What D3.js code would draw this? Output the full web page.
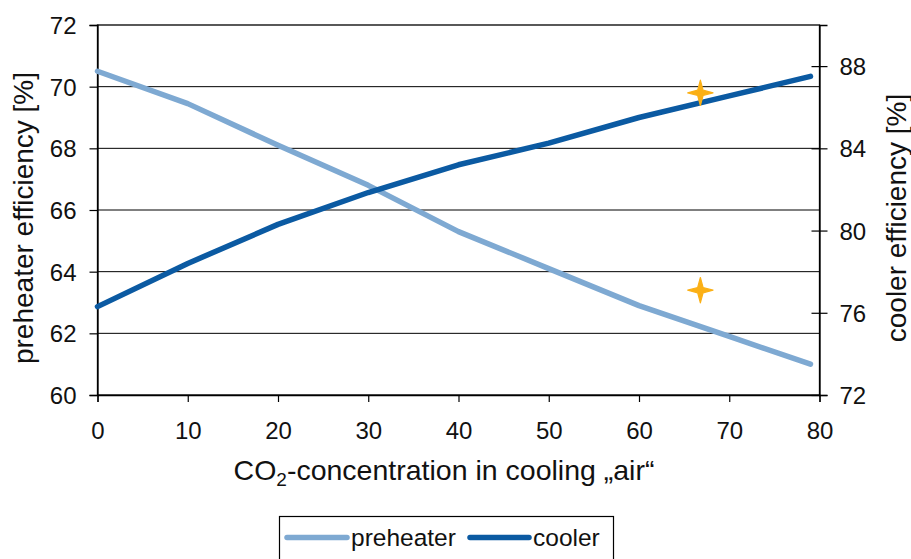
<!DOCTYPE html>
<html><head><meta charset="utf-8">
<script src="https://cdn.jsdelivr.net/npm/d3@7"></script>
<style>
html,body{margin:0;padding:0;background:#fff;}
svg{display:block;font-family:"Liberation Sans",Arial,sans-serif;}
</style></head>
<body><svg id="chart" width="911" height="559"></svg>
<script>
// ---- data ----
const co2 = [0, 10, 20, 30, 40, 50, 60, 70, 79];
const preheater = [70.5, 69.45, 68.1, 66.8, 65.3, 64.1, 62.9, 61.9, 61.0];
const cooler = [76.3, 78.4, 80.3, 81.85, 83.2, 84.25, 85.5, 86.55, 87.5];
const measuredX = [66.8];
const measuredPreheater = [63.4];
const measuredCooler = [86.7];
const xTicks = [0, 10, 20, 30, 40, 50, 60, 70, 80];
const leftTicks = [60, 62, 64, 66, 68, 70, 72];
const rightTicks = [72, 76, 80, 84, 88];
const seriesNames = ["preheater", "cooler"];

const colors = {preheater: "#7EA9D2", cooler: "#0B5AA2", star: "#FBB016"};

const svg = d3.select("#chart");
const m = {left: 97.5, right: 819.5, top: 25, bottom: 395};

const x = d3.scaleLinear().domain([0, 80]).range([m.left, m.right]);
const yL = d3.scaleLinear().domain([60, 72]).range([m.bottom, m.top]);
const yR = d3.scaleLinear().domain([72, 90]).range([m.bottom, m.top]);

// gridlines
svg.append("g").selectAll("line").data(leftTicks.filter(t => t > 60 && t < 72)).join("line")
  .attr("x1", m.left).attr("x2", m.right)
  .attr("y1", d => yL(d)).attr("y2", d => yL(d))
  .attr("stroke", "#000").attr("stroke-width", 1);

// frame
svg.append("rect").attr("x", m.left).attr("y", m.top)
  .attr("width", m.right - m.left).attr("height", m.bottom - m.top)
  .attr("fill", "none").attr("stroke", "#000").attr("stroke-width", 1.3);

// axes
const fontTick = 24;
const gx = svg.append("g").attr("transform", `translate(0,${m.bottom})`)
  .call(d3.axisBottom(x).tickValues(xTicks).tickSize(7).tickPadding(20).tickFormat(d3.format("d")));
const gl = svg.append("g").attr("transform", `translate(${m.left},0)`)
  .call(d3.axisLeft(yL).tickValues(leftTicks).tickSize(8).tickPadding(13).tickFormat(d3.format("d")));
const gr = svg.append("g").attr("transform", `translate(${m.right},0)`)
  .call(d3.axisRight(yR).tickValues(rightTicks).tickSize(8).tickPadding(12).tickFormat(d3.format("d")));
gr.selectAll(".tick line").attr("x1", -8);
[gx, gl, gr].forEach(g => {
  g.select(".domain").attr("stroke", "#000").attr("stroke-width", 1.3);
  g.selectAll(".tick line").attr("stroke", "#000").attr("stroke-width", 1.2);
  g.selectAll("text").attr("font-size", fontTick).attr("fill", "#111")
    .attr("font-family", "Liberation Sans, Arial, sans-serif");
});
gl.selectAll("text").attr("dy", "0.36em");
gr.selectAll("text").attr("dy", "0.36em");

// lines
const linePre = d3.line().x((d, i) => x(co2[i])).y(d => yL(d));
const lineCool = d3.line().x((d, i) => x(co2[i])).y(d => yR(d));
svg.append("path").datum(preheater).attr("d", linePre)
  .attr("fill", "none").attr("stroke", colors.preheater).attr("stroke-width", 5.5)
  .attr("stroke-linecap", "round").attr("stroke-linejoin", "round");
svg.append("path").datum(cooler).attr("d", lineCool)
  .attr("fill", "none").attr("stroke", colors.cooler).attr("stroke-width", 5.5)
  .attr("stroke-linecap", "round").attr("stroke-linejoin", "round");

// 4-point star symbol
const star4 = {
  draw(ctx, size) {
    const r = Math.sqrt(size), ri = r * 0.3;
    for (let k = 0; k < 8; k++) {
      const a = -Math.PI / 2 + k * Math.PI / 4;
      const rr = k % 2 === 0 ? r : ri;
      const px = rr * Math.cos(a), py = rr * Math.sin(a);
      k === 0 ? ctx.moveTo(px, py) : ctx.lineTo(px, py);
    }
    ctx.closePath();
  }
};
const starPath = d3.symbol().type(star4).size(160)();
svg.append("g").selectAll("path").data(measuredX).join("path")
  .attr("d", starPath).attr("fill", colors.star)
  .attr("stroke", colors.star).attr("stroke-width", 1.2).attr("stroke-linejoin", "round")
  .attr("transform", (d, i) => `translate(${x(d)},${yL(measuredPreheater[i])})`);
svg.append("g").selectAll("path").data(measuredX).join("path")
  .attr("d", starPath).attr("fill", colors.star)
  .attr("stroke", colors.star).attr("stroke-width", 1.2).attr("stroke-linejoin", "round")
  .attr("transform", (d, i) => `translate(${x(d)},${yR(measuredCooler[i])})`);

// axis titles
const xt = svg.append("text").attr("x", 444).attr("y", 480).attr("text-anchor", "middle")
  .attr("font-size", 28.5).attr("fill", "#111");
xt.append("tspan").text("CO");
xt.append("tspan").attr("font-size", 19).attr("dy", 6).text("2");
xt.append("tspan").attr("dy", -6).text("-concentration in cooling \u201Eair\u201C");

svg.append("text").attr("transform", "translate(33,218) rotate(-90)")
  .attr("text-anchor", "middle").attr("font-size", 28).attr("fill", "#111")
  .text("preheater efficiency [%]");
svg.append("text").attr("transform", "translate(906,218) rotate(-90)")
  .attr("text-anchor", "middle").attr("font-size", 28).attr("fill", "#111")
  .text("cooler efficiency [%]");

// legend
const lg = svg.append("g");
lg.append("rect").attr("x", 279.5).attr("y", 516.5).attr("width", 334).attr("height", 60)
  .attr("fill", "#fff").attr("stroke", "#000").attr("stroke-width", 1.2);
const legendItems = [
  {name: seriesNames[0], color: colors.preheater, x0: 287, x1: 347, tx: 351},
  {name: seriesNames[1], color: colors.cooler, x0: 470, x1: 529, tx: 533}
];
legendItems.forEach(it => {
  lg.append("line").attr("x1", it.x0).attr("x2", it.x1).attr("y1", 537.5).attr("y2", 537.5)
    .attr("stroke", it.color).attr("stroke-width", 5.5).attr("stroke-linecap", "round");
  lg.append("text").attr("x", it.tx).attr("y", 545.5).attr("font-size", 24.5).attr("fill", "#111")
    .text(it.name);
});
</script></body></html>
